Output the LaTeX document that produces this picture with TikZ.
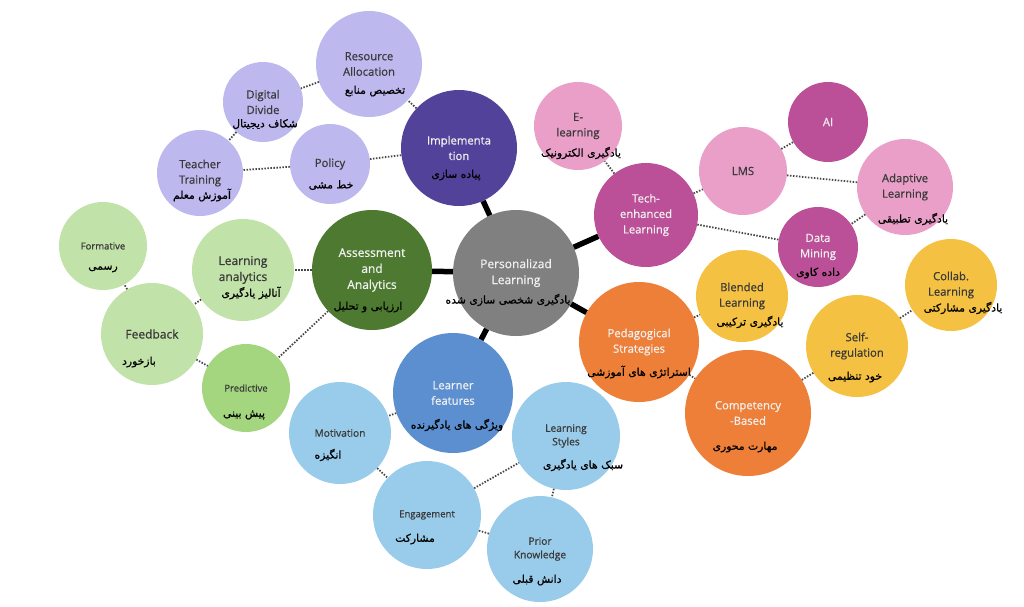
\documentclass[tikz,border=0pt]{standalone}
\usepackage{fontspec}
\setmainfont{Open Sans}[FakeBold=0.7]
\newfontfamily\farsi[Script=Arabic, FakeBold=0.8]{DejaVu Sans}
\TeXXeTstate=1
\usepackage{tikz}
\definecolor{implPurple}{RGB}{83,66,153}
\definecolor{lightPurple}{RGB}{189,184,238}
\definecolor{techMagenta}{RGB}{188,80,152}
\definecolor{lightPink}{RGB}{233,159,200}
\definecolor{assessGreen}{RGB}{77,122,48}
\definecolor{lightGreen}{RGB}{193,226,168}
\definecolor{midGreen}{RGB}{163,214,126}
\definecolor{pedaOrange}{RGB}{238,127,56}
\definecolor{sunYellow}{RGB}{245,193,66}
\definecolor{learnerBlue}{RGB}{92,143,208}
\definecolor{lightBlue}{RGB}{153,203,234}
\definecolor{centerGray}{RGB}{128,128,128}
\definecolor{labelGray}{RGB}{58,58,58}
\newcommand{\fatext}[1]{{\farsi\fontsize{10.8}{13}\selectfont\beginR#1\endR}}

\begin{document}
\begin{tikzpicture}[x=1pt, y=-1pt,
  bubble/.style={circle, inner sep=0pt, align=center, text=labelGray,
    font=\fontsize{11.3}{15.5}\selectfont},
  darkBubble/.style={bubble, text=white!94!black},
  smallTxt/.style={font=\fontsize{9.5}{13}\selectfont},
  midTxt/.style={font=\fontsize{10.2}{13.5}\selectfont},
  largeTxt/.style={font=\fontsize{12}{16}\selectfont},
  faTxt/.style={inner sep=0pt, text=black},
  hubLink/.style={line width=5.5pt, black},
  dotLink/.style={line width=1.8pt, black!72, dash pattern=on 1.5pt off 1.5pt}]
  \useasboundingbox (0,0) rectangle (1024,606);

  % center
  \node[darkBubble, fill=centerGray, minimum size=126pt, largeTxt] (pers) at (516,273) {Personalizad\\Learning};
  \node[faTxt] (persFa) at ([shift={(-8,27)}]pers) {\fatext{یادگیری شخصی سازی شده}};

  % implementation
  \node[darkBubble, fill=implPurple, minimum size=116pt] (impl) at (459,148) {Implementa\\tion};
  \node[faTxt] (implFa) at ([shift={(-3,27)}]impl) {\fatext{پیاده سازی}};
  \node[bubble, fill=lightPurple, minimum size=106pt] (resalloc) at (369,64) {Resource\\Allocation};
  \node[faTxt] (resallocFa) at ([shift={(6,27)}]resalloc) {\fatext{تخصیص منابع}};
  \node[bubble, fill=lightPurple, minimum size=80pt] (digdiv) at (263,102) {Digital\\Divide};
  \node[faTxt] (digdivFa) at ([shift={(2,22)}]digdiv) {\fatext{شکاف دیجیتال}};
  \node[bubble, fill=lightPurple, minimum size=86pt] (teacher) at (200,173) {Teacher\\Training};
  \node[faTxt] (teacherFa) at ([shift={(2,22)}]teacher) {\fatext{آموزش معلم}};
  \node[bubble, fill=lightPurple, minimum size=80pt] (policy) at (330,164) {Policy};
  \node[faTxt] (policyFa) at ([shift={(1,21)}]policy) {\fatext{خط مشی}};

  % tech-enhanced
  \node[darkBubble, fill=techMagenta, minimum size=104pt] (tech) at (646,215) {Tech-\\enhanced\\Learning};
  \node[bubble, fill=lightPink, minimum size=88pt] (elearn) at (578,126) {E-\\learning};
  \node[faTxt] (elearnFa) at ([shift={(3,27)}]elearn) {\fatext{یادگیری الکترونیک}};
  \node[bubble, fill=lightPink, minimum size=88pt] (lms) at (743,171) {LMS};
  \node[darkBubble, fill=techMagenta, minimum size=80pt] (ai) at (828,122) {AI};
  \node[bubble, fill=lightPink, minimum size=96pt] (adapt) at (905,187) {Adaptive\\Learning};
  \node[faTxt] (adaptFa) at ([shift={(8,32)}]adapt) {\fatext{یادگیری تطبیقی}};
  \node[darkBubble, fill=techMagenta, minimum size=80pt] (mining) at (818,247) {Data\\Mining};
  \node[faTxt] (miningFa) at ([shift={(0,26)}]mining) {\fatext{داده کاوی}};

  % assessment
  \node[darkBubble, fill=assessGreen, minimum size=120pt, largeTxt] (assess) at (372,270) {Assessment\\and\\Analytics};
  \node[faTxt] (assessFa) at ([shift={(-4,37)}]assess) {\fatext{ارزیابی و تحلیل}};
  \node[bubble, fill=lightGreen, minimum size=102pt, largeTxt] (lanalytics) at (243,270) {Learning\\analytics};
  \node[faTxt] (lanalyticsFa) at ([shift={(8,23)}]lanalytics) {\fatext{آنالیز یادگیری}};
  \node[bubble, smallTxt, fill=lightGreen, minimum size=88pt] (formative) at (103,246) {Formative};
  \node[faTxt] (formativeFa) at ([shift={(0,23)}]formative) {\fatext{رسمی}};
  \node[bubble, largeTxt, fill=lightGreen, minimum size=102pt] (feedback) at (152,334) {Feedback};
  \node[faTxt] (feedbackFa) at ([shift={(-13,28)}]feedback) {\fatext{بازخورد}};
  \node[bubble, smallTxt, fill=midGreen, minimum size=88pt] (predict) at (246,388) {Predictive};
  \node[faTxt] (predictFa) at ([shift={(-2,27)}]predict) {\fatext{پیش بینی}};

  % pedagogy
  \node[darkBubble, fill=pedaOrange, minimum size=120pt] (peda) at (639,342) {Pedagogical\\Strategies};
  \node[faTxt] (pedaFa) at ([shift={(0,30)}]peda) {\fatext{استراتژی های آموزشی}};
  \node[bubble, fill=sunYellow, minimum size=92pt] (blended) at (742,296) {Blended\\Learning};
  \node[faTxt] (blendedFa) at ([shift={(8,26)}]blended) {\fatext{یادگیری ترکیبی}};
  \node[darkBubble, fill=pedaOrange, minimum size=126pt] (compet) at (748,413) {Competency\\-Based};
  \node[faTxt] (competFa) at ([shift={(-3,34)}]compet) {\fatext{مهارت محوری}};
  \node[bubble, fill=sunYellow, minimum size=102pt] (selfreg) at (857,346) {Self-\\regulation};
  \node[faTxt] (selfregFa) at ([shift={(-2,31)}]selfreg) {\fatext{خود تنظیمی}};
  \node[bubble, fill=sunYellow, minimum size=92pt] (collab) at (951,285) {Collab.\\Learning};
  \node[faTxt] (collabFa) at ([shift={(12,23)}]collab) {\fatext{یادگیری مشارکتی}};

  % learner
  \node[darkBubble, fill=learnerBlue, minimum size=120pt] (learner) at (453,393) {Learner\\features};
  \node[faTxt] (learnerFa) at ([shift={(4,32)}]learner) {\fatext{ویژگی های یادگیرنده}};
  \node[bubble, midTxt, fill=lightBlue, minimum size=102pt] (motiv) at (340,433) {Motivation};
  \node[faTxt] (motivFa) at ([shift={(-12,22)}]motiv) {\fatext{انگیزه}};
  \node[bubble, smallTxt, fill=lightBlue, minimum size=108pt] (engage) at (427,515) {Engagement};
  \node[faTxt] (engageFa) at ([shift={(-12,24)}]engage) {\fatext{مشارکت}};
  \node[bubble, midTxt, fill=lightBlue, minimum size=108pt] (lstyles) at (566,436) {Learning\\Styles};
  \node[faTxt] (lstylesFa) at ([shift={(17,29)}]lstyles) {\fatext{سبک های یادگیری}};
  \node[bubble, midTxt, fill=lightBlue, minimum size=106pt] (prior) at (540,549) {Prior\\Knowledge};
  \node[faTxt] (priorFa) at ([shift={(-3,31)}]prior) {\fatext{دانش قبلی}};

  \draw[hubLink] (pers) -- (impl);
  \draw[hubLink] (pers) -- (tech);
  \draw[hubLink] (pers) -- (assess);
  \draw[hubLink] (pers) -- (peda);
  \draw[hubLink] (pers) -- (learner);

  \draw[dotLink] (impl) -- (resalloc);
  \draw[dotLink] (impl) -- (policy);
  \draw[dotLink] (resalloc) -- (digdiv);
  \draw[dotLink] (digdiv) -- (teacher);
  \draw[dotLink] (policy) -- (teacher);

  \draw[dotLink] (tech) -- (elearn);
  \draw[dotLink] (tech) -- (lms);
  \draw[dotLink] (tech) -- (mining);
  \draw[dotLink] (lms) -- (ai);
  \draw[dotLink] (lms) -- (adapt);
  \draw[dotLink] (adapt) -- (mining);

  \draw[dotLink] (assess) -- (lanalytics);
  \draw[dotLink] (assess) -- (predict);
  \draw[dotLink] (lanalytics) -- (feedback);
  \draw[dotLink] (feedback) -- (formative);
  \draw[dotLink] (feedback) -- (predict);

  \draw[dotLink] (peda) -- (blended);
  \draw[dotLink] (peda) -- (compet);
  \draw[dotLink] (compet) -- (selfreg);
  \draw[dotLink] (selfreg) -- (collab);

  \draw[dotLink] (learner) -- (motiv);
  \draw[dotLink] (motiv) -- (engage);
  \draw[dotLink] (engage) -- (lstyles);
  \draw[dotLink] (engage) -- (prior);
  \draw[dotLink] (lstyles) -- (prior);
\end{tikzpicture}
\end{document}
